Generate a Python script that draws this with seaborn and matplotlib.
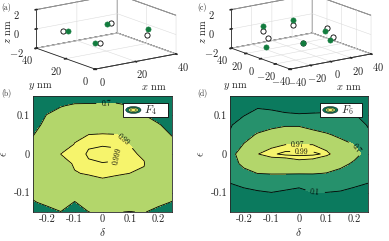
import numpy as np
import matplotlib
matplotlib.use('Agg')
import matplotlib.pyplot as plt
import seaborn as sns
from matplotlib.patches import Ellipse, Rectangle

# ---- data ----
delta = [-0.25, -0.2, -0.15, -0.1, -0.05, 0.0, 0.05, 0.1, 0.15, 0.2, 0.25]
eps = [0.15, 0.125, 0.1, 0.075, 0.05, 0.025, 0.0, -0.025, -0.05, -0.075, -0.1, -0.125, -0.15]

# fidelity F4 (panel b), rows = eps (top to bottom), cols = delta
f4 = [
    [0.45, 0.55, 0.60, 0.62, 0.63, 0.63, 0.63, 0.60, 0.50, 0.45, 0.40],
    [0.50, 0.60, 0.69, 0.72, 0.72, 0.72, 0.725, 0.70, 0.62, 0.55, 0.50],
    [0.55, 0.71, 0.76, 0.80, 0.82, 0.83, 0.82, 0.78, 0.705, 0.62, 0.58],
    [0.60, 0.78, 0.85, 0.90, 0.96, 0.965, 0.96, 0.92, 0.80, 0.72, 0.62],
    [0.69, 0.82, 0.90, 0.975, 0.9902, 0.9925, 0.991, 0.975, 0.88, 0.78, 0.69],
    [0.75, 0.86, 0.95, 0.993, 0.9985, 0.9988, 0.9987, 0.989, 0.95, 0.86, 0.75],
    [0.78, 0.90, 0.9905, 0.997, 0.9995, 0.9998, 0.9995, 0.995, 0.985, 0.90, 0.78],
    [0.78, 0.88, 0.975, 0.994, 0.9985, 0.9989, 0.9988, 0.996, 0.992, 0.90, 0.78],
    [0.75, 0.85, 0.93, 0.988, 0.993, 0.994, 0.993, 0.9898, 0.985, 0.90, 0.78],
    [0.72, 0.82, 0.88, 0.94, 0.975, 0.986, 0.98, 0.96, 0.93, 0.85, 0.77],
    [0.76, 0.78, 0.82, 0.80, 0.85, 0.90, 0.88, 0.86, 0.84, 0.80, 0.78],
    [0.68, 0.75, 0.80, 0.69, 0.80, 0.85, 0.80, 0.78, 0.80, 0.75, 0.69],
    [0.55, 0.62, 0.695, 0.60, 0.698, 0.72, 0.705, 0.695, 0.71, 0.64, 0.60],
]

# fidelity F6 (panel d)
f6 = [
    [0.03, 0.03, 0.03, 0.02, 0.02, 0.02, 0.02, 0.02, 0.03, 0.03, 0.03],
    [0.04, 0.05, 0.06, 0.06, 0.05, 0.05, 0.05, 0.05, 0.06, 0.05, 0.04],
    [0.06, 0.09, 0.20, 0.15, 0.12, 0.11, 0.115, 0.12, 0.16, 0.11, 0.05],
    [0.07, 0.25, 0.45, 0.60, 0.67, 0.67, 0.55, 0.45, 0.35, 0.25, 0.08],
    [0.13, 0.50, 0.75, 0.85, 0.88, 0.88, 0.85, 0.75, 0.60, 0.40, 0.15],
    [0.30, 0.72, 0.90, 0.96, 0.969, 0.969, 0.969, 0.94, 0.85, 0.69, 0.40],
    [0.60, 0.85, 0.969, 0.985, 0.997, 0.998, 0.996, 0.985, 0.93, 0.80, 0.59],
    [0.55, 0.78, 0.92, 0.94, 0.93, 0.951, 0.945, 0.90, 0.80, 0.65, 0.45],
    [0.25, 0.60, 0.705, 0.72, 0.73, 0.73, 0.72, 0.69, 0.60, 0.40, 0.25],
    [0.101, 0.15, 0.25, 0.45, 0.30, 0.16, 0.40, 0.40, 0.30, 0.14, 0.101],
    [0.05, 0.05, 0.06, 0.09, 0.03, 0.04, 0.09, 0.09, 0.06, 0.05, 0.05],
    [0.03, 0.03, 0.03, 0.03, 0.03, 0.03, 0.03, 0.03, 0.03, 0.03, 0.03],
    [0.02, 0.02, 0.02, 0.02, 0.02, 0.02, 0.02, 0.02, 0.02, 0.02, 0.02],
]

f4_levels = [0.0, 0.7, 0.99, 0.999, 1.0]
f6_levels = [0.0, 0.1, 0.7, 0.97, 0.99, 1.0]
f4_label_pos = [(0.013, 0.128), (0.087, 0.045), (0.055, -0.005)]
f6_label_pos = [(-0.004, 0.022), (0.011, 0.011), (0.211, 0.017), (0.058, -0.098)]

# emitter positions (nm): filled = green, open = white
a_green = {'x': [8.2, 27.2, 36.0, 5.7], 'y': [29.6, 29.6, 13.9, 8.3], 'z': [0, 0, 0, 0]}
a_open = {'x': [6.6, 29.4, 35.5, 7.3], 'y': [31.0, 30.0, 13.9, 6.9], 'z': [0, 0, -0.6, 0]}
c_green = {'x': [-13.6, 15.8, -19.1, 16.7, 3.9, -32.1], 'y': [33.7, 33.6, -29.1, -9.5, -33.8, 3.7],
           'z': [0, 0, 0, 0, 0, -1]}
c_open = {'x': [-22.7, 7.6, -19.1, 23.0, 10.9, -33.0], 'y': [21.1, 22.2, -29.1, -3.9, -27.9, -0.6],
          'z': [0, 0, 0, 0, 0, 0]}

dark = '#0b7a5e'
mid = '#26916c'
light = '#b3d66b'
yellow = '#f6f46c'
dot_green = '#127c3e'

sns.set_theme(style='ticks')
plt.rcParams['font.family'] = ['cmr10', 'DejaVu Serif']
plt.rcParams['mathtext.fontset'] = 'cm'
plt.rcParams['axes.unicode_minus'] = False
plt.rcParams['axes.formatter.use_mathtext'] = True

fig = plt.figure(figsize=(3.89, 2.41), dpi=100)
W, H = 389, 241


def px_rect(x0, y0, x1, y1):
    return [x0 / W, 1 - y1 / H, (x1 - x0) / W, (y1 - y0) / H]


def scatter_panel(rect, lims, ticks, green, opn):
    ax = fig.add_axes(rect, projection='3d', proj_type='ortho', computed_zorder=False)
    ax.patch.set_alpha(0)
    ax.view_init(elev=15, azim=-126)
    ax.set_box_aspect((1, 1, 0.40), zoom=1.55)
    ax.set_xlim(*lims)
    ax.set_ylim(*lims)
    ax.set_zlim(-2, 2)
    ax.set_xticks(ticks)
    ax.set_yticks(ticks)
    ax.set_zticks([-2, 0, 2])
    for axis in (ax.xaxis, ax.yaxis, ax.zaxis):
        axis.set_pane_color((1, 1, 1, 1))
        axis.pane.set_edgecolor('black')
        axis.pane.set_linewidth(0.6)
        axis._axinfo['grid'].update(color='#dcdcdc', linewidth=0.4)
        axis.line.set_linewidth(0.6)
    ax.tick_params(axis='x', labelsize=7.5, pad=-4)
    ax.tick_params(axis='y', labelsize=7.5, pad=-4)
    ax.tick_params(axis='z', labelsize=7.5, pad=-3)
    ax.scatter(opn['x'], opn['y'], opn['z'], s=14, facecolor='white', edgecolor='black',
               linewidth=0.6, depthshade=False)
    ax.scatter(green['x'], green['y'], green['z'], s=14, color=dot_green, edgecolor=dot_green,
               linewidth=0.4, depthshade=False)
    return ax


def contour_panel(rect, field, levels, colors, label_pos, name, w_ell):
    ax = fig.add_axes(rect)
    D, E = np.meshgrid(delta, eps)
    Z = np.array(field)
    ax.contourf(D, E, Z, levels=levels, colors=colors)
    cs = ax.contour(D, E, Z, levels=levels[1:-1], colors='black', linewidths=0.6)
    ax.clabel(cs, fmt=lambda v: f'{v:g}', fontsize=5.5, manual=label_pos, inline=True)
    ax.set_xlim(-0.25, 0.25)
    ax.set_ylim(-0.15, 0.15)
    ax.set_xticks([-0.2, -0.1, 0, 0.1, 0.2])
    ax.set_xticklabels(['-0.2', '-0.1', '0', '0.1', '0.2'])
    ax.set_yticks([-0.1, 0, 0.1])
    ax.set_yticklabels(['-0.1', '0', '0.1'])
    ax.tick_params(direction='in', length=2, width=0.5, labelsize=7.5, pad=2,
                   top=True, right=True)
    for s in ax.spines.values():
        s.set_linewidth(0.6)
    ax.set_xlabel(r'$\delta$', fontsize=8, labelpad=1)
    ax.set_ylabel(r'$\epsilon$', fontsize=8, labelpad=3)
    # legend box
    x0, x1, y0, y1 = w_ell
    ax.add_patch(Rectangle((x0, y0), x1 - x0, y1 - y0, transform=ax.transAxes,
                           facecolor='white', edgecolor='black', linewidth=0.6, zorder=5))
    cx = x0 + 0.075
    cy = (y0 + y1) / 2
    for wd, ht, c in [(0.11, 0.06, dark), (0.075, 0.04, light), (0.04, 0.022, yellow)]:
        ax.add_patch(Ellipse((cx, cy), wd, ht, transform=ax.transAxes, facecolor=c,
                             edgecolor='black', linewidth=0.3, zorder=6))
    ax.text(x0 + 0.155, cy, name, transform=ax.transAxes, fontsize=8, va='center', zorder=7)
    return ax


scatter_panel(px_rect(8, -13, 202, 79), (0, 40), [0, 20, 40], a_green, a_open)
scatter_panel(px_rect(203, -13, 397, 79), (-40, 40), [-40, -20, 0, 20, 40], c_green, c_open)

contour_panel(px_rect(33, 96, 172, 212), f4, f4_levels, [dark, light, yellow, yellow],
              f4_label_pos, '$F_4$', (0.647, 0.971, 0.819, 0.94))
contour_panel(px_rect(230, 96, 368, 212), f6, f6_levels, [dark, mid, light, yellow, yellow],
              f6_label_pos, '$F_6$', (0.652, 0.954, 0.822, 0.937))

# 3D axis labels
for off in (0, 195):
    fig.text((off + 40) / W, 1 - 87 / H, '$y$ nm', fontsize=7.5, ha='center', va='center')
    fig.text((off + 154) / W, 1 - 87 / H, '$x$ nm', fontsize=7.5, ha='center', va='center')
    fig.text((off + 8) / W, 1 - 32 / H, '$z$ nm', fontsize=7.5, ha='center', va='center',
             rotation=90)

for lbl, x, y in [('(a)', 1, 7), ('(b)', 1, 93), ('(c)', 197, 7), ('(d)', 197, 93)]:
    fig.text(x / W, 1 - y / H, lbl, fontsize=5.5, va='center', ha='left')

fig.savefig('out.png', dpi=100)
